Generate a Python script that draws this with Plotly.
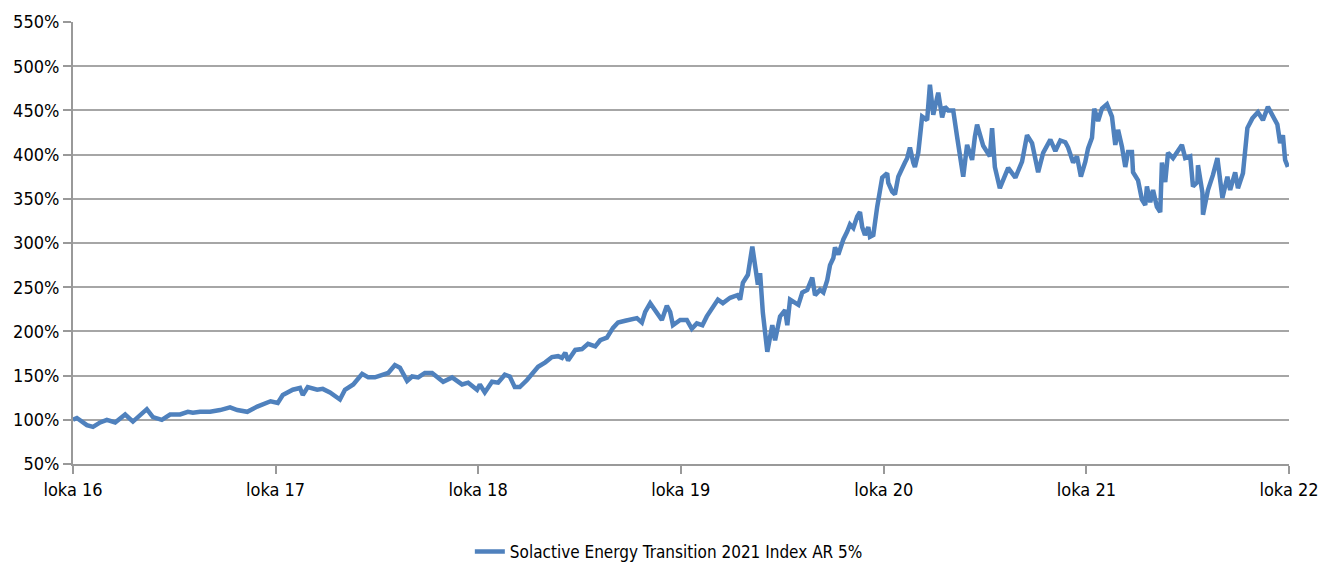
import plotly.graph_objects as go

series_name = "Solactive Energy Transition 2021 Index AR 5%"

dates = [
    "2016-10-01", "2016-10-08", "2016-10-26", "2016-11-06", "2016-11-19", "2016-12-01", "2016-12-16",
    "2017-01-03", "2017-01-17", "2017-02-11", "2017-02-22", "2017-03-10", "2017-03-25", "2017-04-12",
    "2017-04-26", "2017-05-05", "2017-05-18", "2017-06-05", "2017-06-23", "2017-07-11", "2017-07-24",
    "2017-08-11", "2017-08-29", "2017-09-16", "2017-09-22", "2017-10-05", "2017-10-14", "2017-11-01",
    "2017-11-14", "2017-11-19", "2017-11-28", "2017-12-15", "2017-12-25", "2018-01-07", "2018-01-22",
    "2018-01-25", "2018-02-03", "2018-02-18", "2018-03-06", "2018-03-17", "2018-03-29", "2018-04-11",
    "2018-04-22", "2018-05-04", "2018-05-13", "2018-05-26", "2018-06-04", "2018-06-15", "2018-06-27",
    "2018-07-10", "2018-07-19", "2018-07-30", "2018-08-15", "2018-09-02", "2018-09-13", "2018-09-29",
    "2018-10-04", "2018-10-13", "2018-10-26", "2018-11-06", "2018-11-18", "2018-11-27", "2018-12-06",
    "2018-12-15", "2018-12-28", "2019-01-08", "2019-01-17", "2019-01-30", "2019-02-11", "2019-02-22",
    "2019-03-01", "2019-03-07", "2019-03-12", "2019-03-25", "2019-04-06", "2019-04-17", "2019-04-30",
    "2019-05-09", "2019-05-21", "2019-06-01", "2019-06-10", "2019-06-23", "2019-07-05", "2019-07-14",
    "2019-07-23", "2019-07-29", "2019-08-07", "2019-08-12", "2019-08-28", "2019-09-06", "2019-09-12",
    "2019-09-17", "2019-09-30", "2019-10-12", "2019-10-21", "2019-10-30", "2019-11-09", "2019-11-17",
    "2019-11-28", "2019-12-07", "2019-12-16", "2019-12-29", "2020-01-11", "2020-01-16", "2020-01-21",
    "2020-01-30", "2020-02-07", "2020-02-12", "2020-02-17", "2020-02-21", "2020-02-26", "2020-03-05",
    "2020-03-10", "2020-03-14", "2020-03-19", "2020-03-28", "2020-04-06", "2020-04-10", "2020-04-15",
    "2020-04-24", "2020-04-30", "2020-05-07", "2020-05-16", "2020-05-25", "2020-05-30", "2020-06-08",
    "2020-06-14", "2020-06-21", "2020-06-26", "2020-07-02", "2020-07-05", "2020-07-11", "2020-07-20",
    "2020-07-27", "2020-08-01", "2020-08-07", "2020-08-14", "2020-08-19", "2020-08-23", "2020-08-28",
    "2020-09-03", "2020-09-06", "2020-09-12", "2020-09-19", "2020-09-22", "2020-09-28", "2020-10-07",
    "2020-10-09", "2020-10-16", "2020-10-21", "2020-10-27", "2020-11-03", "2020-11-08", "2020-11-12",
    "2020-11-17", "2020-11-23", "2020-11-26", "2020-12-02", "2020-12-09", "2020-12-18", "2020-12-23",
    "2020-12-29", "2021-01-07", "2021-01-14", "2021-01-19", "2021-01-25", "2021-02-03", "2021-02-10",
    "2021-02-15", "2021-02-21", "2021-02-28", "2021-03-05", "2021-03-09", "2021-03-14", "2021-03-18",
    "2021-03-29", "2021-04-07", "2021-04-10", "2021-04-14", "2021-04-19", "2021-04-28", "2021-05-08",
    "2021-05-13", "2021-05-26", "2021-06-07", "2021-06-16", "2021-06-25", "2021-07-06", "2021-07-15",
    "2021-07-28", "2021-08-06", "2021-08-15", "2021-08-24", "2021-08-29", "2021-09-02", "2021-09-07",
    "2021-09-14", "2021-09-21", "2021-09-29", "2021-10-04", "2021-10-11", "2021-10-15", "2021-10-22",
    "2021-10-29", "2021-11-07", "2021-11-16", "2021-11-22", "2021-11-27", "2021-12-04", "2021-12-10",
    "2021-12-15", "2021-12-22", "2021-12-24", "2022-01-02", "2022-01-09", "2022-01-15", "2022-01-18",
    "2022-01-24", "2022-01-29", "2022-02-05", "2022-02-11", "2022-02-14", "2022-02-20", "2022-02-25",
    "2022-03-06", "2022-03-15", "2022-03-22", "2022-03-28", "2022-04-06", "2022-04-11", "2022-04-19",
    "2022-04-20", "2022-04-28", "2022-04-29", "2022-05-08", "2022-05-17", "2022-05-25", "2022-06-03",
    "2022-06-12", "2022-06-17", "2022-06-26", "2022-07-01", "2022-07-10", "2022-07-18", "2022-07-27",
    "2022-08-06", "2022-08-15", "2022-08-24", "2022-09-01", "2022-09-10", "2022-09-15", "2022-09-20",
    "2022-09-24", "2022-09-29",
]

values = [
    100, 102, 94, 92, 97, 100, 97,
    106, 98, 112, 103, 100, 106, 106,
    109, 108, 109, 109, 111, 114, 111,
    109, 115, 119, 121, 119, 128, 134,
    136, 128, 137, 134, 135, 131, 125,
    123, 134, 140, 152, 148, 148, 151,
    153, 162, 159, 144, 149, 148, 153,
    153, 149, 143, 148, 140, 142, 134,
    140, 131, 143, 142, 151, 149, 137,
    137, 145, 153, 160, 165, 171, 172,
    170, 176, 167, 179, 180, 186, 183,
    190, 193, 204, 210, 212, 213, 215,
    210, 222, 232, 227, 213, 229, 222,
    207, 213, 213, 203, 209, 207, 217,
    227, 236, 232, 238, 241, 236, 255,
    264, 296, 272, 253, 266, 221, 177,
    198, 207, 190, 217, 224, 207, 236,
    233, 230, 244, 247, 261, 241, 247,
    244, 258, 275, 283, 295, 287, 304,
    313, 321, 317, 330, 335, 318, 309,
    318, 307, 309, 341, 355, 374, 379,
    368, 358, 355, 375, 383, 391, 396,
    408, 391, 386, 402, 443, 439, 479,
    445, 470, 442, 454, 450, 450, 420,
    398, 375, 411, 402, 394, 420, 434,
    410, 400, 398, 430, 386, 362, 379,
    385, 374, 392, 422, 413, 380, 402,
    417, 404, 416, 414, 408, 400, 391,
    398, 375, 392, 407, 419, 452, 438,
    452, 457, 443, 411, 428, 409, 386,
    403, 403, 380, 371, 349, 343, 364,
    346, 360, 341, 335, 391, 369, 402,
    396, 405, 411, 396, 398, 364, 369,
    388, 357, 332, 360, 377, 396, 351,
    375, 360, 380, 362, 379, 430, 441,
    448, 439, 454, 445, 434, 413, 422,
    394, 386,
]

tick_dates = ["2016-10-01", "2017-10-01", "2018-10-01", "2019-10-01",
              "2020-10-01", "2021-10-01", "2022-10-01"]
tick_labels = ["loka 16", "loka 17", "loka 18", "loka 19", "loka 20", "loka 21", "loka 22"]
y_ticks = [50, 100, 150, 200, 250, 300, 350, 400, 450, 500, 550]
y_labels = [f"{v}%" for v in y_ticks]

FONT = "DejaVu Sans Condensed, Liberation Sans Narrow, Roboto, sans-serif"

fig = go.Figure()
fig.add_trace(go.Scatter(
    x=dates, y=values, mode="lines", name=series_name,
    line=dict(color="#4f81bd", width=4.5),
))

fig.update_layout(
    width=1330, height=568,
    margin=dict(l=65, r=49, t=14, b=112, autoexpand=False),
    paper_bgcolor="white", plot_bgcolor="white",
    font=dict(family=FONT, size=18, color="#000000"),
    showlegend=True,
    legend=dict(orientation="h", x=0.49, xanchor="center", y=-0.199, yanchor="middle",
                font=dict(family=FONT, size=17, color="#000000"), bgcolor="rgba(0,0,0,0)"),
    xaxis=dict(
        type="date", range=["2016-10-01", "2022-10-01"], automargin=False,
        tickmode="array", tickvals=tick_dates, ticktext=tick_labels,
        showgrid=False, zeroline=False,
        showline=True, linecolor="#999999", linewidth=2,
        ticks="outside", ticklen=8, tickcolor="#999999", tickwidth=2,
        tickfont=dict(family=FONT, size=18, color="#000000"),
    ),
    yaxis=dict(
        range=[50, 550], automargin=False, tickmode="array", tickvals=y_ticks, ticktext=y_labels,
        showgrid=True, gridcolor="#a6a6a6", gridwidth=2, zeroline=False,
        showline=True, linecolor="#999999", linewidth=2,
        ticks="outside", ticklen=8, tickcolor="#999999", tickwidth=2,
        tickfont=dict(family=FONT, size=18, color="#000000"),
    ),
)

fig.write_html("out.html")
